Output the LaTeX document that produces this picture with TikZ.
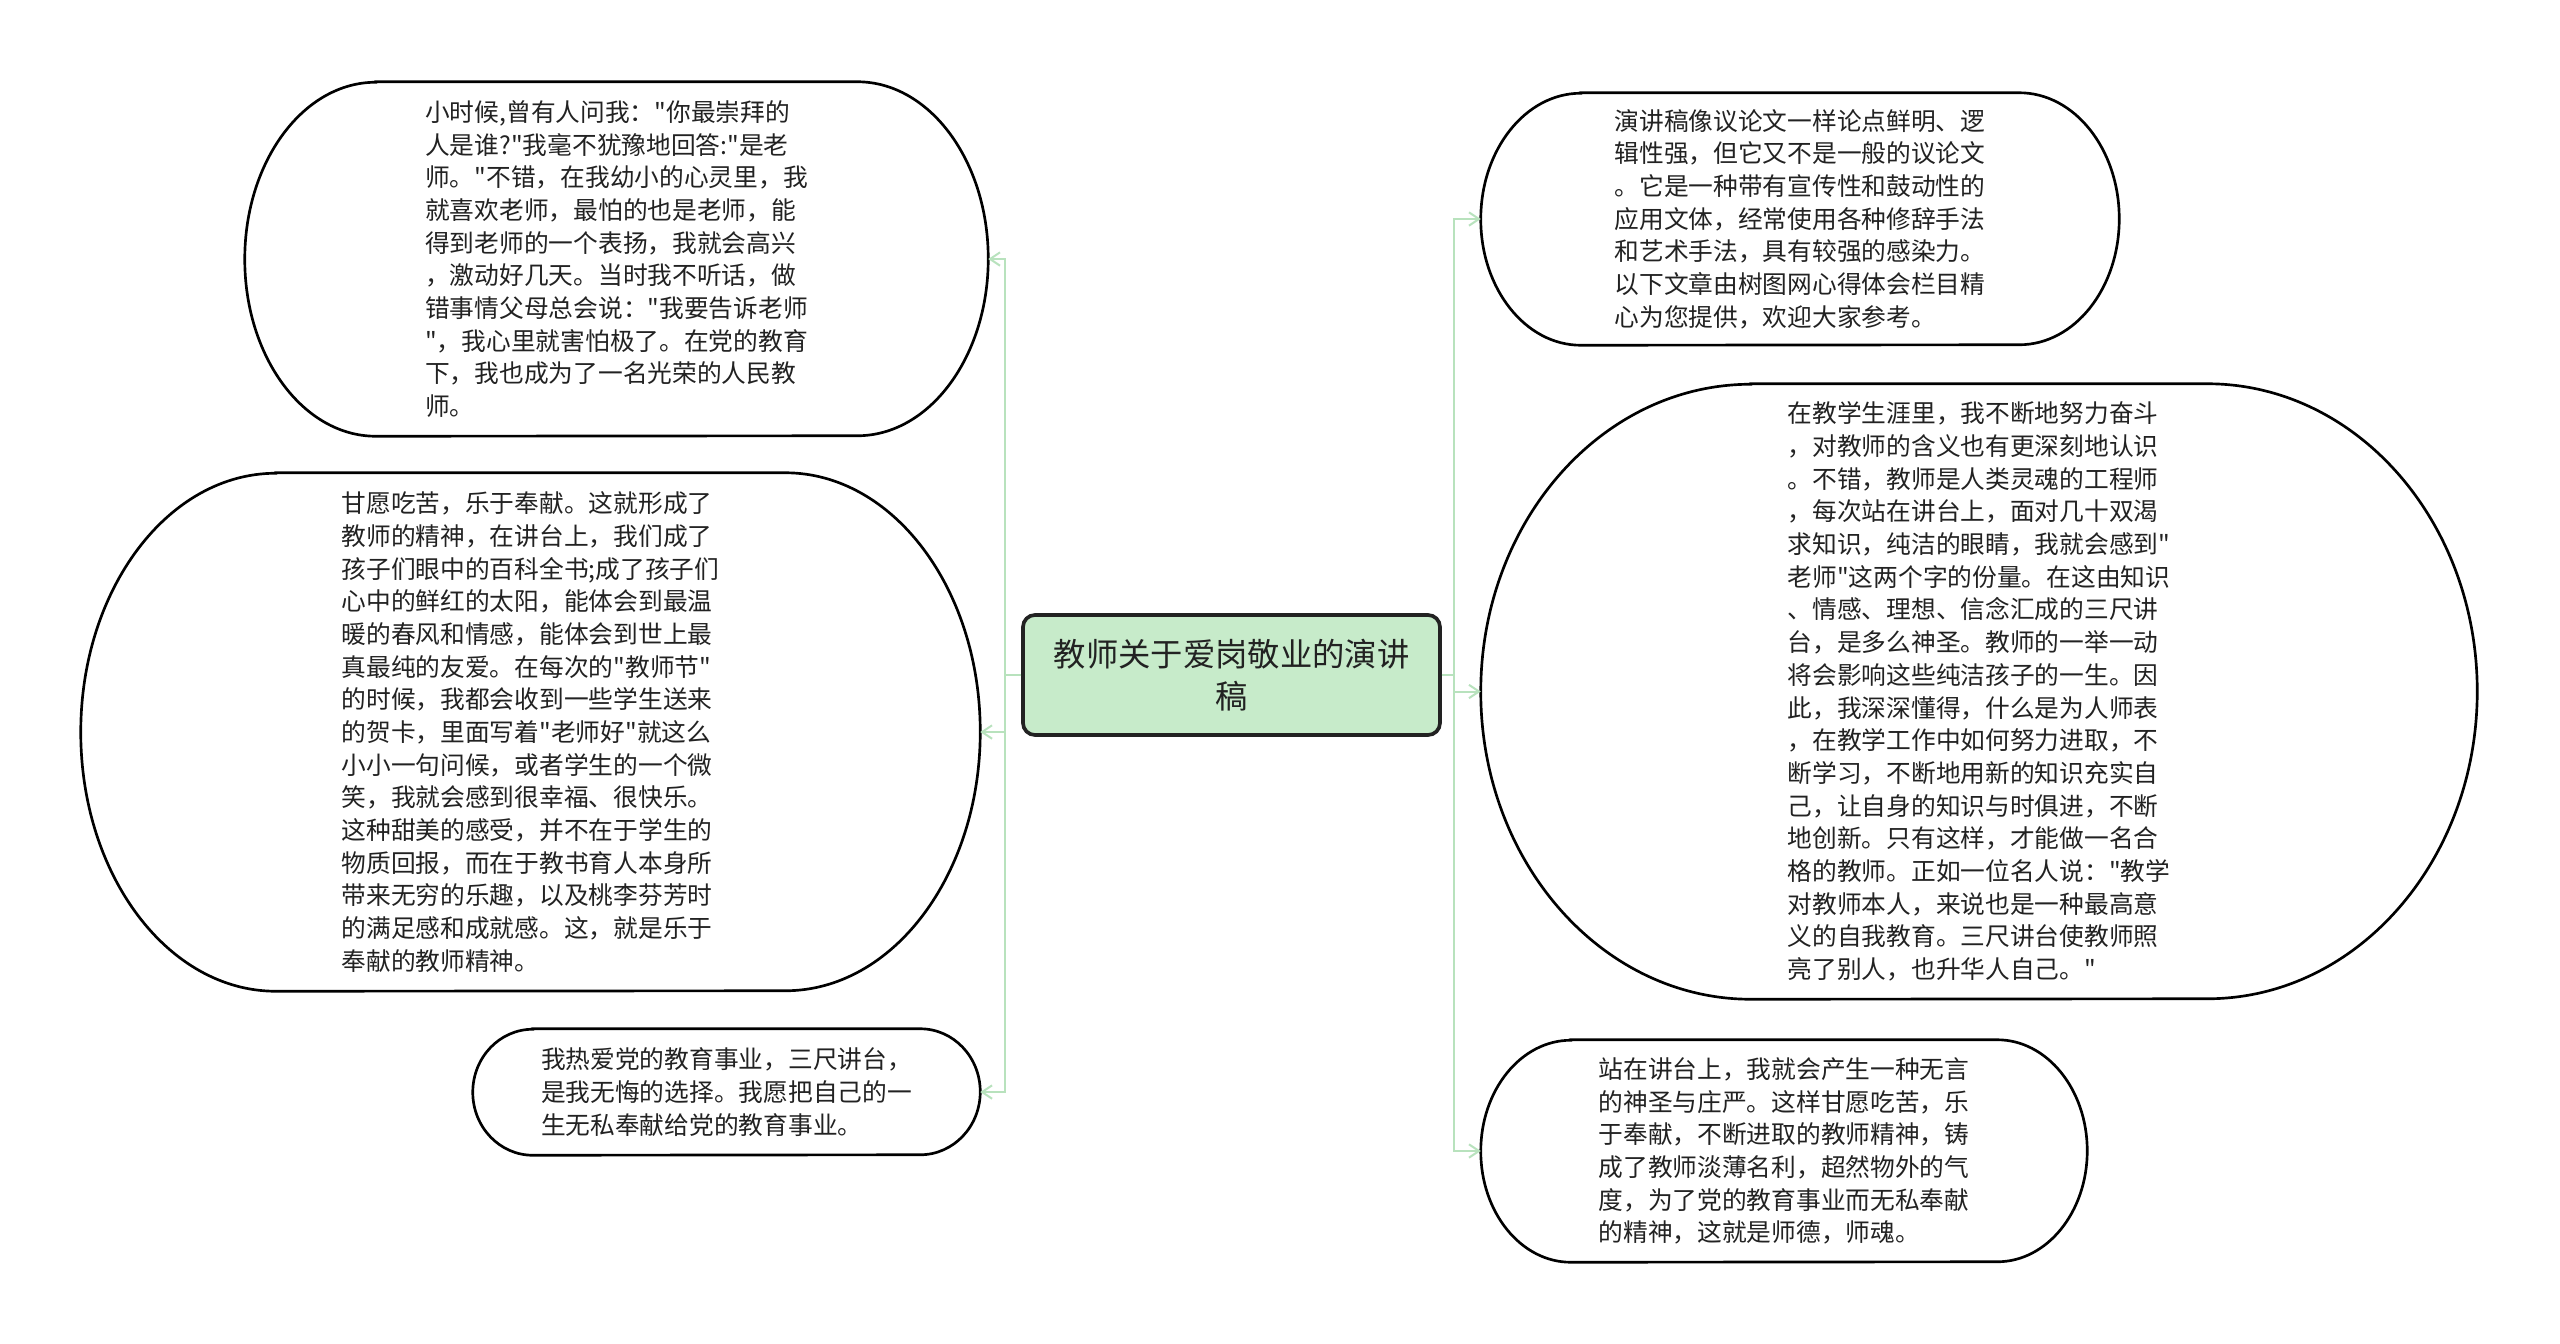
\documentclass[tikz,border=0pt]{standalone}
\usepackage{fontspec}
\setmainfont{Noto Sans CJK SC}[Ligatures=TeXOff]
\usepackage{tikz}
\usetikzlibrary{arrows.meta,calc}
\definecolor{linkgreen}{RGB}{184,226,189}
\definecolor{topicgreen}{RGB}{199,235,202}
\definecolor{inkgray}{RGB}{34,34,34}
% outline with elliptic ends: node, x radius, y radius
\newcommand{\bubble}[3]{%
  \draw[bubbleline] ($(#1.north west)+(#2,0)$) -- ($(#1.north east)-(#2,0)$)
    arc[start angle=90,end angle=-90,x radius=#2,y radius=#3]
    -- ($(#1.south west)+(#2,0)$)
    arc[start angle=270,end angle=90,x radius=#2,y radius=#3] -- cycle;}

\begin{document}
\begin{tikzpicture}[
  x=0.3mm, y=0.3mm,
  topic/.style={draw=inkgray,line width=1.1mm,rounded corners=3.6mm,fill=topicgreen,
                align=center,text=inkgray,minimum width=125.1mm,minimum height=36mm,
                inner sep=0pt,font=\fontsize{27.6pt}{36pt}\selectfont},
  leaf/.style={align=left,inner sep=0pt,text=inkgray,
               font=\fontsize{21.1pt}{27.9pt}\selectfont},
  bubbleline/.style={draw=black,line width=0.8mm},
  link/.style={draw=linkgreen,line width=0.6mm,-{Straight Barb[length=3mm,width=4mm]}}
]
\fill[white] (0,0) rectangle (2560,-1343);
\useasboundingbox (0,0) rectangle (2560,-1343);

\node[topic] (topic) at (1231.5,-675) {教师关于爱岗敬业的演讲\\稿};

% left branch
\node[leaf,minimum width=222.9mm,minimum height=106.2mm] (memory) at (616.5,-259) {小时候,曾有人问我："你最崇拜的\\
人是谁?"我毫不犹豫地回答:"是老\\
师。"不错，在我幼小的心灵里，我\\
就喜欢老师，最怕的也是老师，能\\
得到老师的一个表扬，我就会高兴\\
，激动好几天。当时我不听话，做\\
错事情父母总会说："我要告诉老师\\
"，我心里就害怕极了。在党的教育\\
下，我也成为了一名光荣的人民教\\
师。};
\node[leaf,minimum width=269.7mm,minimum height=155.4mm] (devotion) at (530.5,-732) {甘愿吃苦，乐于奉献。这就形成了\\
教师的精神，在讲台上，我们成了\\
孩子们眼中的百科全书;成了孩子们\\
心中的鲜红的太阳，能体会到最温\\
暖的春风和情感，能体会到世上最\\
真最纯的友爱。在每次的"教师节"\\
的时候，我都会收到一些学生送来\\
的贺卡，里面写着"老师好"就这么\\
小小一句问候，或者学生的一个微\\
笑，我就会感到很幸福、很快乐。\\
这种甜美的感受，并不在于学生的\\
物质回报，而在于教书育人本身所\\
带来无穷的乐趣，以及桃李芬芳时\\
的满足感和成就感。这，就是乐于\\
奉献的教师精神。};
\node[leaf,minimum width=152.1mm,minimum height=37.8mm] (pledge) at (726.5,-1092) {我热爱党的教育事业，三尺讲台，\\
是我无悔的选择。我愿把自己的一\\
生无私奉献给党的教育事业。};

% right branch
\node[leaf,minimum width=191.4mm,minimum height=75.6mm] (intro) at (1800,-219) {演讲稿像议论文一样论点鲜明、逻\\
辑性强，但它又不是一般的议论文\\
。它是一种带有宣传性和鼓动性的\\
应用文体，经常使用各种修辞手法\\
和艺术手法，具有较强的感染力。\\
以下文章由树图网心得体会栏目精\\
心为您提供，欢迎大家参考。};
\node[leaf,minimum width=298.8mm,minimum height=184.5mm] (career) at (1979,-691.5) {在教学生涯里，我不断地努力奋斗\\
，对教师的含义也有更深刻地认识\\
。不错，教师是人类灵魂的工程师\\
，每次站在讲台上，面对几十双渴\\
求知识，纯洁的眼睛，我就会感到"\\
老师"这两个字的份量。在这由知识\\
、情感、理想、信念汇成的三尺讲\\
台，是多么神圣。教师的一举一动\\
将会影响这些纯洁孩子的一生。因\\
此，我深深懂得，什么是为人师表\\
，在教学工作中如何努力进取，不\\
断学习，不断地用新的知识充实自\\
己，让自身的知识与时俱进，不断\\
地创新。只有这样，才能做一名合\\
格的教师。正如一位名人说："教学\\
对教师本人，来说也是一种最高意\\
义的自我教育。三尺讲台使教师照\\
亮了别人，也升华人自己。"};
\node[leaf,minimum width=181.8mm,minimum height=66.6mm] (podium) at (1784,-1151) {站在讲台上，我就会产生一种无言\\
的神圣与庄严。这样甘愿吃苦，乐\\
于奉献，不断进取的教师精神，铸\\
成了教师淡薄名利，超然物外的气\\
度，为了党的教育事业而无私奉献\\
的精神，这就是师德，师魂。};

\bubble{memory}{131}{177}
\bubble{devotion}{195}{259}
\bubble{pledge}{60}{63}
\bubble{intro}{100}{126}
\bubble{career}{270}{307.5}
\bubble{podium}{90}{111}

\draw[link] (topic.west) -- ++(-16,0) |- (memory.east);
\draw[link] (topic.west) -- ++(-16,0) |- (devotion.east);
\draw[link] (topic.west) -- ++(-16,0) |- (pledge.east);
\draw[link] (topic.east) -- ++(12,0) |- (intro.west);
\draw[link] (topic.east) -- ++(12,0) |- (career.west);
\draw[link] (topic.east) -- ++(12,0) |- (podium.west);
\end{tikzpicture}
\end{document}
